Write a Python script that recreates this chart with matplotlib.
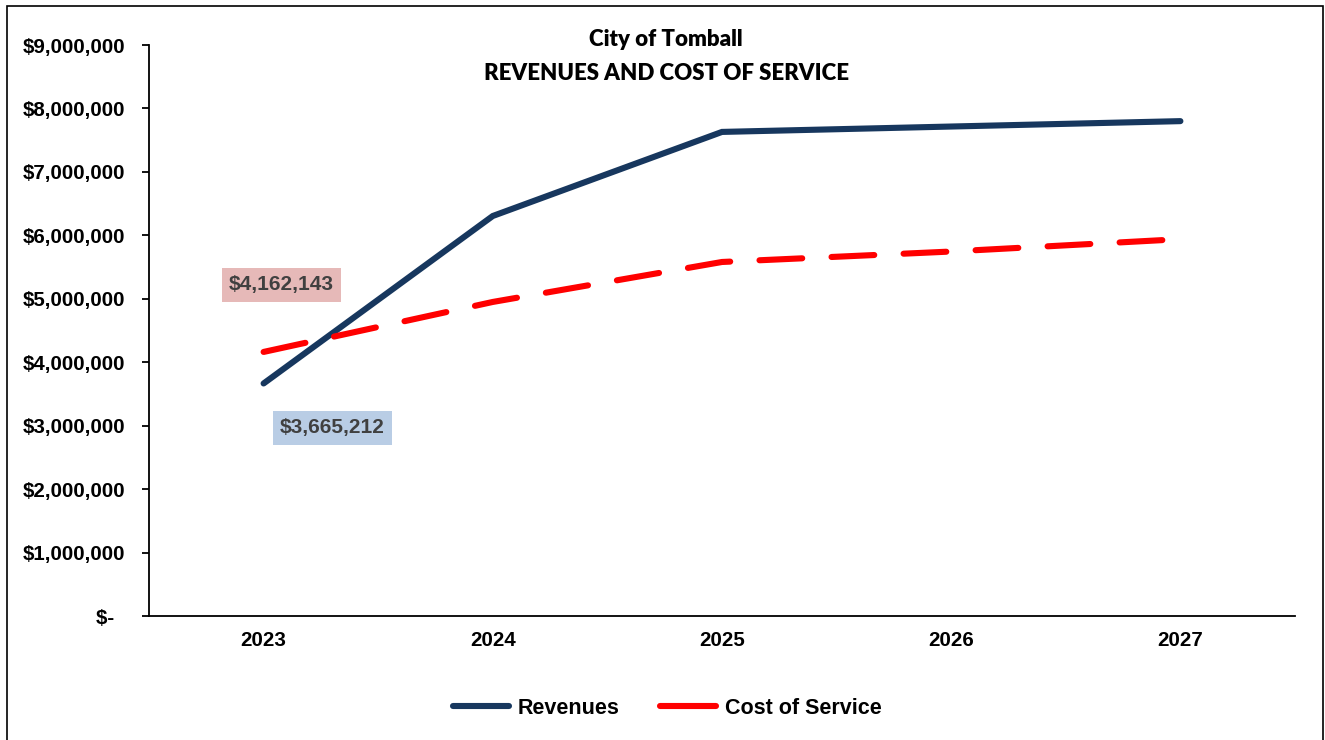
import matplotlib
matplotlib.use("Agg")
import matplotlib.pyplot as plt
from matplotlib.lines import Line2D
from matplotlib.patches import Rectangle
from matplotlib.ticker import FuncFormatter, MultipleLocator

years = ["2023", "2024", "2025", "2026", "2027"]
revenues = [3665212, 6305000, 7630000, 7715000, 7800000]
cost_of_service = [4162143, 4950000, 5580000, 5745000, 5940000]

navy = "#17375E"
red = "#FF0000"

plt.rcParams['font.family'] = ['Liberation Sans', 'DejaVu Sans']

fig = plt.figure(figsize=(13.25, 7.4), dpi=100)
ax = fig.add_axes([149/1325, 1-616/740, (1295-149)/1325, (616-45)/740])

x = list(range(len(years)))
ax.plot(x, revenues, color=navy, lw=4.4, solid_capstyle='round',
        solid_joinstyle='miter', label="Revenues")
ax.plot(x, cost_of_service, color=red, lw=4.4, linestyle=(0, (7, 4.8)),
        dash_capstyle='round', label="Cost of Service")

ax.set_xlim(-0.5, len(years) - 0.5)
ax.set_ylim(0, 9000000)
ax.set_xticks(x)
ax.set_xticklabels(years)
ax.yaxis.set_major_locator(MultipleLocator(1000000))


def dollars(v, pos):
    if v == 0:
        return "$-  "
    return "${:,.0f}".format(v)


ax.yaxis.set_major_formatter(FuncFormatter(dollars))
for lab in ax.get_xticklabels() + ax.get_yticklabels():
    lab.set_fontweight('bold')
    lab.set_fontsize(14.8)
ax.tick_params(axis='y', length=5, width=1.3, pad=12)
ax.tick_params(axis='x', length=0, pad=11)
ax.spines['top'].set_visible(False)
ax.spines['right'].set_visible(False)
ax.spines['left'].set_linewidth(1.3)
ax.spines['bottom'].set_linewidth(1.3)

# value callouts for the first year
ax.annotate("${:,.0f}".format(cost_of_service[0]), xy=(0, cost_of_service[0]),
            xytext=(281.5/1325, 1-285/740), textcoords='figure fraction',
            ha='center', va='center', fontsize=15, fontweight='bold',
            color='#404040',
            bbox=dict(boxstyle='square,pad=0.35', fc='#E6B9B8', ec='none'))
ax.annotate("${:,.0f}".format(revenues[0]), xy=(0, revenues[0]),
            xytext=(332.5/1325, 1-428/740), textcoords='figure fraction',
            ha='center', va='center', fontsize=15, fontweight='bold',
            color='#404040',
            bbox=dict(boxstyle='square,pad=0.35', fc='#B9CDE5', ec='none'))

fig.text(666/1325, 1-40/740, "City of Tomball", ha='center', va='center',
         fontsize=16, fontweight='heavy', family=['Lato', 'DejaVu Sans'])
fig.text(666/1325, 1-73/740, "REVENUES AND COST OF SERVICE", ha='center',
         va='center', fontsize=16, fontweight='heavy', family=['Lato', 'DejaVu Sans'])

handles = [Line2D([], [], color=navy, lw=4.4, solid_capstyle='round'),
           Line2D([], [], color=red, lw=4.4, solid_capstyle='round')]
fig.legend(handles, ["Revenues", "Cost of Service"], loc='center',
           bbox_to_anchor=(667/1325, 1-708/740), ncol=2, frameon=False,
           prop={'weight': 'bold', 'size': 15.5}, handlelength=2.6,
           handletextpad=0.4, columnspacing=1.9)

# outer frame around the chart area
fig.patches.append(Rectangle((7/1325, -0.02), 1316/1325, 1.02 - 6/740,
                             transform=fig.transFigure, fill=False,
                             ec='black', lw=1.2))

plt.savefig("out.png", dpi=100)
plt.close()
